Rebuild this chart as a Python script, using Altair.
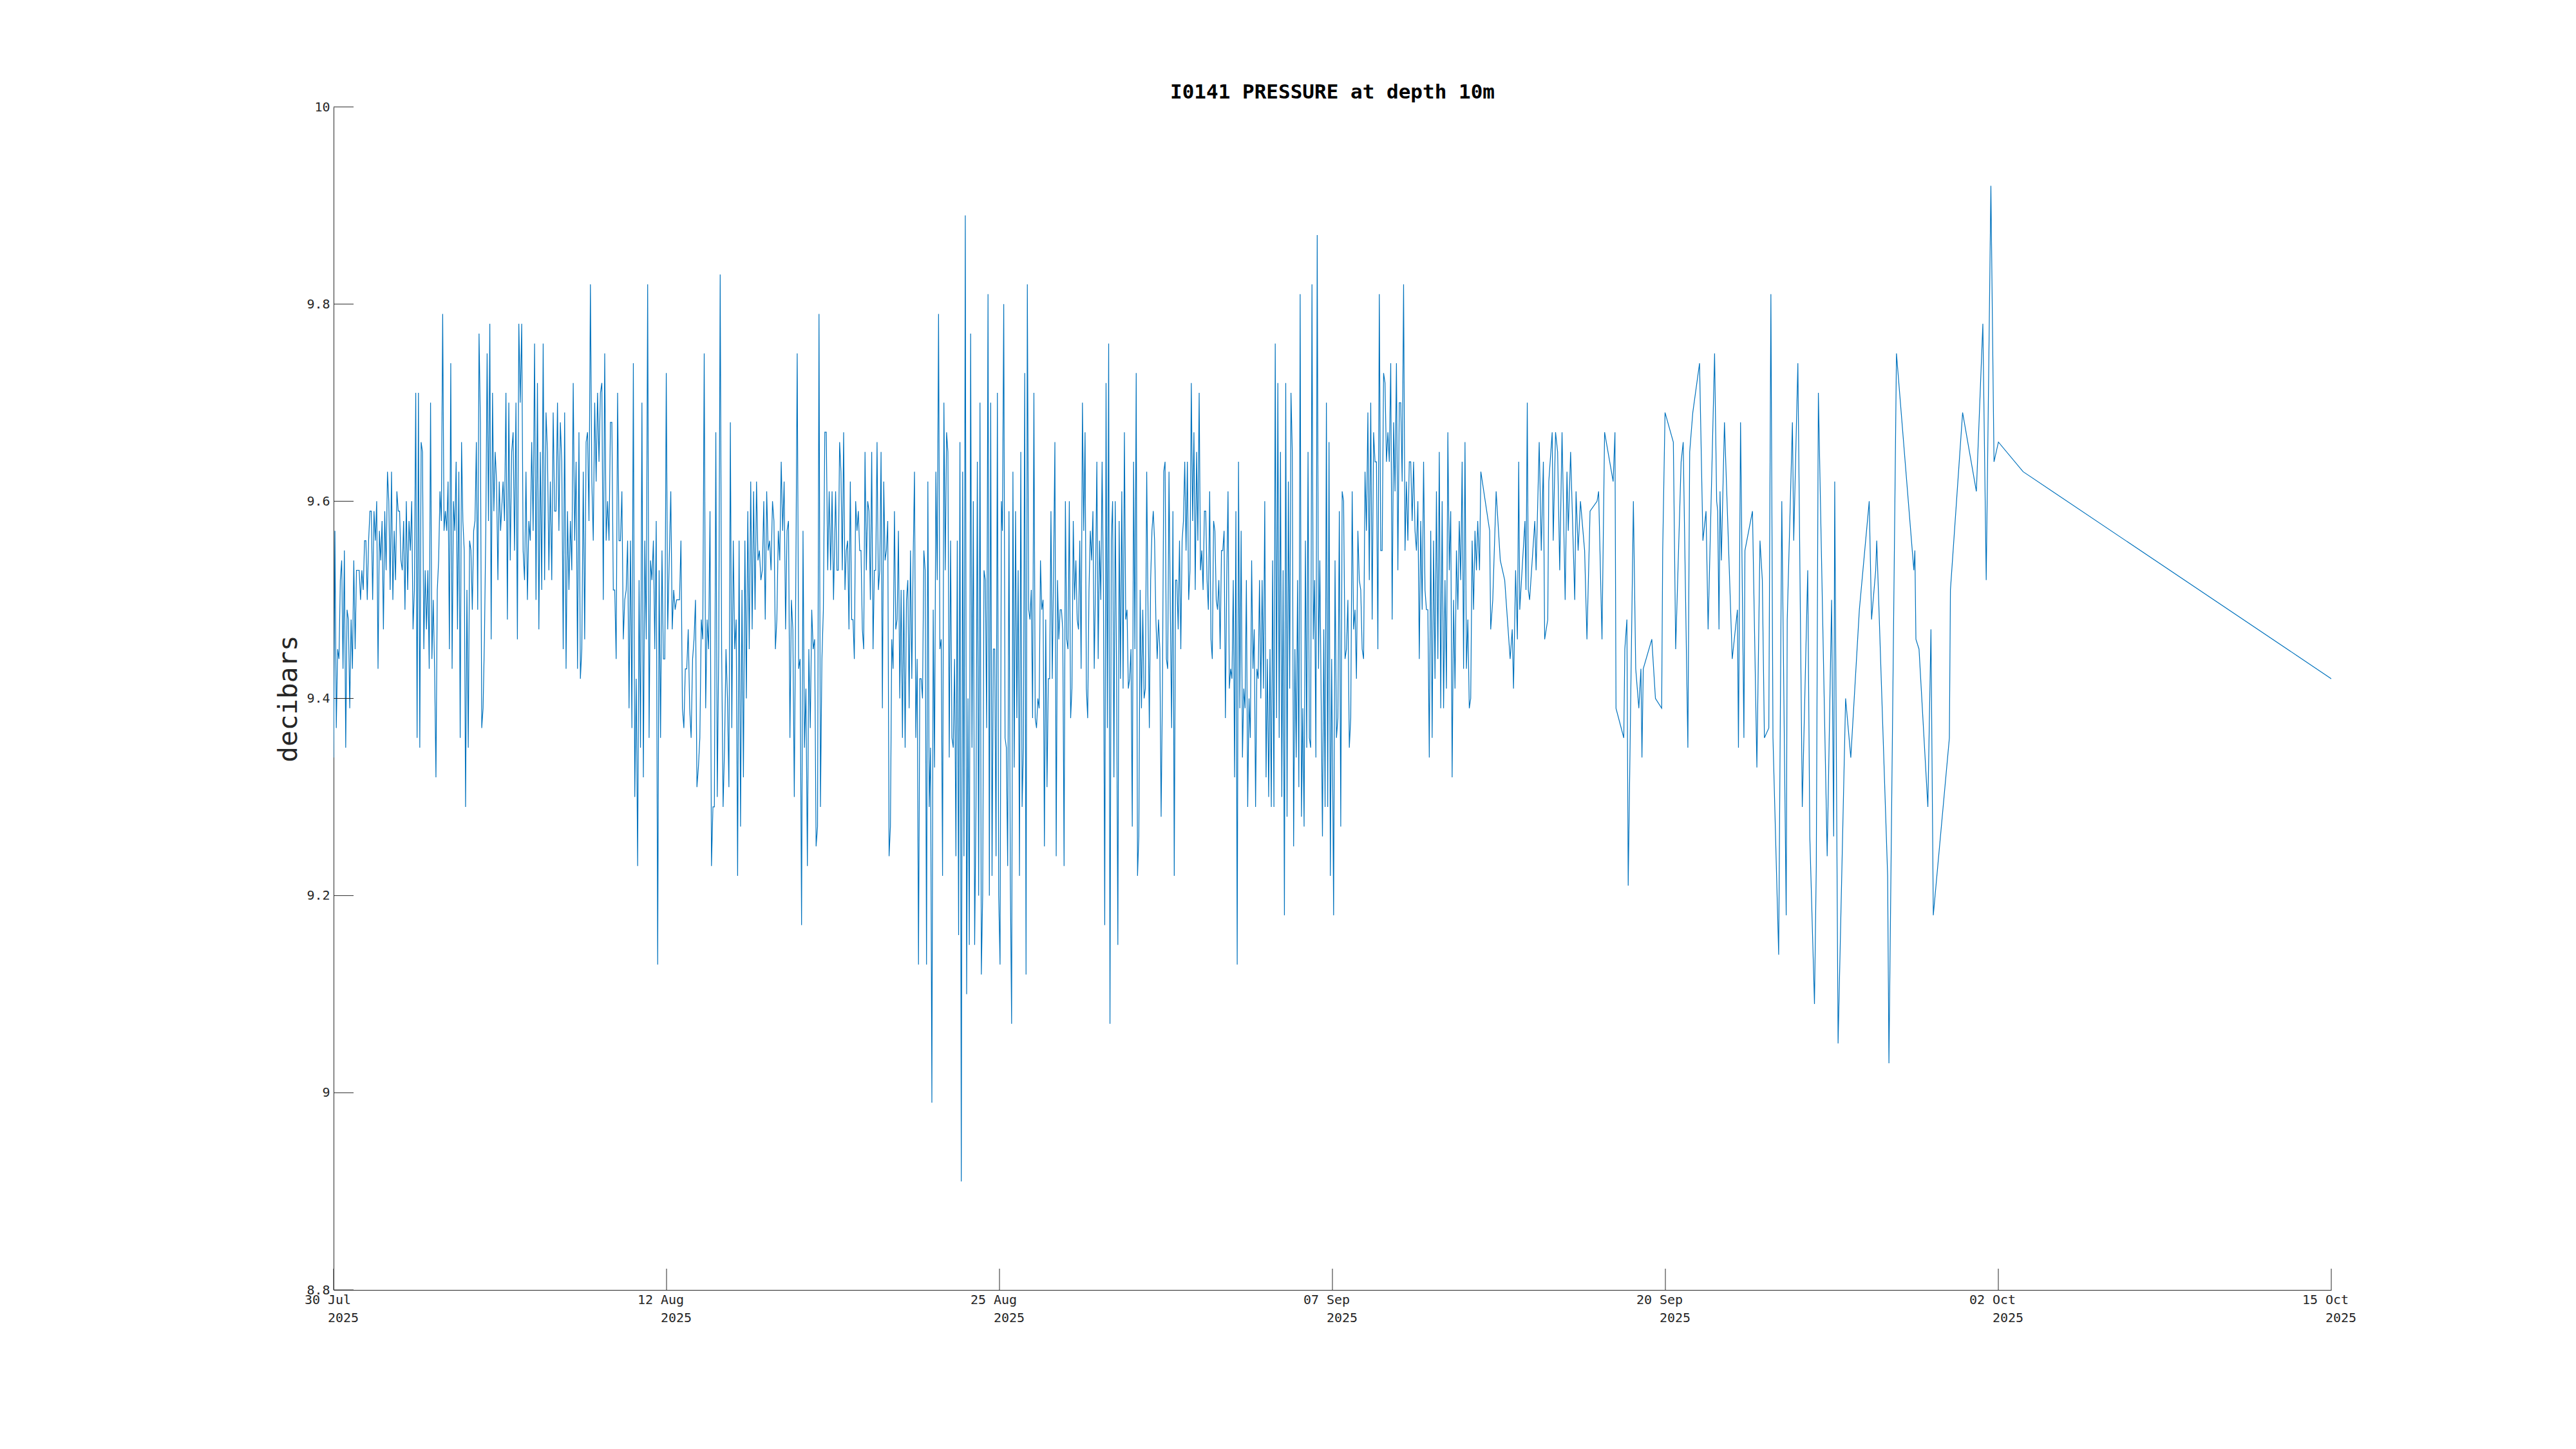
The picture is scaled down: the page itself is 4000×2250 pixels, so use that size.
import altair as alt
import pandas as pd

# ---- data ----
TITLE = "I0141 PRESSURE at depth 10m"
Y_TITLE = "decibars"
START = "2025-07-30 18:00"          # left edge of the axis (first sample)
Y_TICKS = [8.8, 9.0, 9.2, 9.4, 9.6, 9.8, 10.0]
X_TICK_STEP_HOURS = 308             # 6 equal intervals over 77 days
N_X_TICKS = 7

# dense record, regularly sampled within each span: (start day, end day, values)
SEG_A = [9.34, 9.57, 9.37, 9.45, 9.44, 9.52, 9.54, 9.43, 9.55, 9.35, 9.49, 9.48, 9.39, 9.48, 9.43, 9.54, 9.45, 9.53, 9.53, 9.53, 9.50, 9.53, 9.51, 9.56, 9.56, 9.50, 9.56, 9.59, 9.59, 9.50, 9.59, 9.56, 9.60, 9.43, 9.57, 9.54, 9.58, 9.47, 9.59, 9.53, 9.63, 9.60, 9.51, 9.63, 9.50, 9.57, 9.52, 9.61, 9.59, 9.59, 9.54, 9.53, 9.58, 9.49, 9.60, 9.51, 9.58, 9.55, 9.60, 9.47, 9.51, 9.71, 9.36, 9.71, 9.35, 9.66, 9.65, 9.45, 9.53, 9.47, 9.53, 9.43, 9.70, 9.44, 9.50, 9.43, 9.32, 9.51, 9.54, 9.61, 9.58, 9.79, 9.57, 9.59, 9.57, 9.62, 9.45, 9.74, 9.43, 9.60, 9.57, 9.64, 9.47, 9.63, 9.36, 9.66, 9.58, 9.55, 9.29, 9.51, 9.35, 9.56, 9.55, 9.49, 9.57, 9.58, 9.66, 9.49, 9.77, 9.68, 9.37, 9.39, 9.46, 9.57, 9.75, 9.58, 9.78, 9.46, 9.71, 9.59, 9.65, 9.62, 9.52, 9.62, 9.57]
SEG_B = [9.62, 9.58, 9.71, 9.48, 9.70, 9.54, 9.65, 9.67, 9.55, 9.70, 9.46, 9.78, 9.70, 9.78, 9.55, 9.52, 9.63, 9.50, 9.58, 9.56, 9.66, 9.57, 9.76, 9.50, 9.72, 9.47, 9.65, 9.51, 9.76, 9.52, 9.69, 9.65, 9.53, 9.62, 9.52, 9.69, 9.59, 9.59, 9.70, 9.57, 9.68, 9.64, 9.45, 9.69, 9.43, 9.59, 9.51, 9.58, 9.53, 9.72, 9.56, 9.64, 9.43, 9.67, 9.42, 9.45, 9.63, 9.46, 9.66, 9.67, 9.58, 9.82, 9.62, 9.56, 9.70, 9.62, 9.71, 9.64, 9.71, 9.72, 9.50, 9.75, 9.56, 9.60, 9.56, 9.68, 9.68, 9.51, 9.51, 9.44, 9.71, 9.56, 9.56, 9.61, 9.46, 9.50, 9.51, 9.56, 9.39, 9.56, 9.37, 9.74, 9.30, 9.42, 9.23, 9.52, 9.35, 9.70, 9.32, 9.56, 9.46, 9.82, 9.36, 9.54, 9.52, 9.56, 9.45, 9.58, 9.13, 9.53, 9.36, 9.55, 9.44, 9.44, 9.73, 9.47]
SEG_C = [9.61, 9.47, 9.51, 9.49, 9.50, 9.50, 9.50, 9.56, 9.39, 9.37, 9.43, 9.43, 9.47, 9.39, 9.36, 9.44, 9.46, 9.50, 9.31, 9.33, 9.36, 9.48, 9.46, 9.75, 9.39, 9.48, 9.45, 9.59, 9.23, 9.29, 9.29, 9.67, 9.30, 9.45, 9.83, 9.45, 9.29, 9.35, 9.45, 9.40, 9.31, 9.68, 9.37, 9.56, 9.45, 9.48, 9.22, 9.56, 9.27, 9.51, 9.32, 9.56, 9.40, 9.59, 9.45, 9.62, 9.47, 9.61, 9.49, 9.62, 9.54, 9.55, 9.52, 9.53, 9.60, 9.48, 9.61, 9.55, 9.56, 9.53, 9.60, 9.58, 9.45, 9.48, 9.57, 9.54, 9.64, 9.57, 9.62, 9.47, 9.57, 9.58, 9.36, 9.50, 9.47, 9.30, 9.51, 9.75, 9.43, 9.44, 9.17, 9.57, 9.35, 9.41, 9.23, 9.45, 9.37, 9.49, 9.45, 9.46, 9.25, 9.27, 9.79, 9.29, 9.44, 9.49, 9.67, 9.67, 9.53, 9.61, 9.53, 9.61, 9.50]
SEG_D = [9.61, 9.53, 9.53, 9.66, 9.63, 9.53, 9.67, 9.51, 9.55, 9.56, 9.47, 9.62, 9.48, 9.48, 9.44, 9.60, 9.57, 9.59, 9.55, 9.55, 9.47, 9.45, 9.65, 9.53, 9.60, 9.59, 9.50, 9.65, 9.45, 9.53, 9.53, 9.66, 9.51, 9.53, 9.65, 9.39, 9.62, 9.54, 9.55, 9.58, 9.24, 9.27, 9.46, 9.43, 9.59, 9.47, 9.48, 9.57, 9.40, 9.51, 9.36, 9.51, 9.35, 9.50, 9.52, 9.39, 9.55, 9.42, 9.54, 9.63, 9.36, 9.44, 9.13, 9.42, 9.42, 9.40, 9.55, 9.53, 9.13, 9.62, 9.29, 9.35, 8.99, 9.49, 9.33, 9.63, 9.52, 9.79, 9.45, 9.46, 9.22, 9.70, 9.53, 9.67, 9.65, 9.34, 9.56, 9.36, 9.35, 9.44, 9.24, 9.56, 9.16, 9.66, 8.91, 9.63, 9.24, 9.89, 9.10, 9.40, 9.15, 9.77, 9.35, 9.60, 9.15, 9.29, 9.64, 9.20, 9.70, 9.12, 9.20, 9.53, 9.52, 9.37, 9.81, 9.20, 9.70, 9.22, 9.45, 9.45, 9.24, 9.71, 9.20, 9.13, 9.60]
SEG_E = [9.57, 9.80, 9.36, 9.35, 9.23, 9.59, 9.22, 9.07, 9.63, 9.33, 9.59, 9.38, 9.53, 9.22, 9.65, 9.29, 9.35, 9.73, 9.12, 9.82, 9.49, 9.48, 9.51, 9.38, 9.71, 9.38, 9.37, 9.40, 9.39, 9.54, 9.49, 9.50, 9.25, 9.48, 9.31, 9.42, 9.42, 9.59, 9.42, 9.53, 9.66, 9.24, 9.52, 9.46, 9.49, 9.49, 9.47, 9.23, 9.60, 9.46, 9.45, 9.60, 9.38, 9.41, 9.58, 9.50, 9.54, 9.48, 9.47, 9.56, 9.43, 9.70, 9.57, 9.67, 9.41, 9.38, 9.51, 9.57, 9.54, 9.59, 9.43, 9.52, 9.64, 9.44, 9.56, 9.50, 9.64, 9.51, 9.17, 9.72, 9.37, 9.76, 9.07, 9.56, 9.60, 9.32, 9.60, 9.43, 9.15, 9.58, 9.42, 9.61, 9.41, 9.67, 9.48, 9.49, 9.41, 9.42, 9.45, 9.27, 9.64, 9.45, 9.73, 9.22, 9.26, 9.51, 9.39, 9.49, 9.40, 9.41, 9.63, 9.49, 9.37, 9.52, 9.57, 9.59, 9.56, 9.48, 9.44, 9.48, 9.45, 9.28, 9.41, 9.63, 9.64, 9.44, 9.43, 9.63, 9.49, 9.37, 9.59, 9.22, 9.52, 9.52, 9.47, 9.56, 9.45, 9.56, 9.58, 9.64, 9.55, 9.64, 9.50, 9.53, 9.72, 9.58, 9.67, 9.51, 9.65, 9.56, 9.71, 9.53, 9.55, 9.51, 9.59, 9.59, 9.52, 9.49, 9.61, 9.46, 9.44, 9.58, 9.57, 9.50, 9.49, 9.52, 9.45, 9.55, 9.55, 9.57, 9.38, 9.52, 9.61, 9.41, 9.43, 9.42, 9.52, 9.32, 9.59, 9.13, 9.64, 9.39, 9.57, 9.34, 9.41, 9.39, 9.52, 9.29, 9.40, 9.36, 9.54, 9.43, 9.47, 9.29, 9.43, 9.42, 9.52, 9.40, 9.52, 9.41, 9.60, 9.32, 9.44, 9.30, 9.45, 9.29, 9.54, 9.29, 9.76, 9.38, 9.72, 9.36, 9.65, 9.30, 9.53, 9.18, 9.72, 9.28, 9.62, 9.41, 9.71, 9.65, 9.25, 9.45, 9.34, 9.52, 9.31, 9.81, 9.28, 9.39, 9.27, 9.56, 9.35, 9.65, 9.36, 9.35, 9.82, 9.46, 9.52, 9.34, 9.87, 9.43, 9.54, 9.40, 9.26, 9.47, 9.29, 9.70, 9.29, 9.66, 9.22, 9.44, 9.28]
SEG_F = [9.18, 9.54, 9.36, 9.38, 9.59, 9.27, 9.61, 9.60, 9.44, 9.45, 9.50, 9.35, 9.38, 9.61, 9.47, 9.49, 9.42, 9.57, 9.52, 9.51, 9.45, 9.44, 9.63, 9.57, 9.69, 9.52, 9.70, 9.48, 9.67, 9.64, 9.64, 9.45, 9.81, 9.55, 9.55, 9.73, 9.72, 9.64, 9.67, 9.64, 9.74, 9.48, 9.68, 9.61, 9.74, 9.53, 9.70, 9.70, 9.62, 9.82, 9.55, 9.62, 9.56, 9.64, 9.64, 9.58, 9.64, 9.57, 9.55, 9.60, 9.44, 9.58, 9.49, 9.64, 9.51, 9.49, 9.49, 9.34, 9.57, 9.36, 9.56, 9.42, 9.61, 9.44, 9.65, 9.39, 9.60, 9.39, 9.52, 9.41, 9.67, 9.53, 9.59, 9.32, 9.50, 9.41, 9.55, 9.49, 9.58, 9.52, 9.64, 9.43, 9.66, 9.43, 9.48, 9.39, 9.40, 9.56, 9.49, 9.57, 9.53]
DENSE_SPANS = [(0.0, 6.437, SEG_A), (6.533, 12.878, SEG_B), (12.997, 19.27, SEG_C),
               (19.35, 25.74, SEG_D), (25.78, 38.52, SEG_E), (38.545, 44.05, SEG_F)]

# sparser record afterwards: day offsets from START and values
SPARSE_DAYS = [44.10, 44.17, 44.22, 44.56, 44.60, 44.68, 44.81, 44.97, 45.14, 45.35, 45.43, 45.48, 45.56, 45.63, 45.68, 45.72, 45.92, 45.96, 46.01, 46.05, 46.10, 46.30, 46.35, 46.47, 46.55, 46.63, 46.68, 46.80, 46.84, 46.97, 47.01, 47.10, 47.18, 47.26, 47.35, 47.47, 47.54, 47.59, 47.68, 47.84, 47.89, 47.97, 48.06, 48.22, 48.31,
               48.43, 48.70, 48.76, 48.89, 48.99, 49.32, 49.39, 49.43, 49.73, 49.77, 49.85, 49.90, 50.10, 50.19, 50.31, 50.39, 50.43, 50.48, 50.81, 50.95, 51.19, 51.23, 51.32, 51.64, 51.73, 51.94, 52.02, 52.20, 52.27, 52.39, 52.65, 52.78, 52.90, 52.98, 53.23, 53.31, 53.35, 53.40, 53.44, 53.49, 53.61, 53.91, 54.11, 54.15, 54.23, 54.36, 54.40, 54.69, 54.86, 54.98, 55.07, 55.15, 55.32, 55.40, 55.48, 55.70, 55.82, 55.99, 56.03, 56.23, 56.28, 56.44,
               56.61, 56.82, 56.90, 57.08, 57.15, 57.23, 57.57, 57.74, 57.82, 57.86, 57.99, 58.28, 58.48, 58.81, 59.19, 59.28, 59.44, 59.48, 59.90, 59.95, 60.24, 60.91, 60.95, 60.99, 61.11, 61.45, 61.57, 61.66, 62.28, 62.32, 62.79, 63.32, 63.57, 63.70, 63.88, 64.00, 64.17, 65.12, 77.0]
SPARSE_VALS = [9.58, 9.53, 9.63, 9.57, 9.47, 9.50, 9.61, 9.54, 9.52, 9.44, 9.47, 9.41, 9.53, 9.46, 9.64, 9.49, 9.58, 9.51, 9.70, 9.51, 9.50, 9.58, 9.53, 9.66, 9.55, 9.64, 9.46, 9.48, 9.62, 9.67, 9.56, 9.67, 9.65, 9.53, 9.67, 9.50, 9.63, 9.57, 9.65, 9.50, 9.61, 9.55, 9.60, 9.55, 9.46,
               9.59, 9.60, 9.61, 9.46, 9.67, 9.62, 9.67, 9.39, 9.36, 9.45, 9.48, 9.21, 9.60, 9.43, 9.39, 9.43, 9.34, 9.43, 9.46, 9.40, 9.39, 9.55, 9.69, 9.66, 9.45, 9.64, 9.66, 9.35, 9.65, 9.69, 9.74, 9.56, 9.59, 9.47, 9.75, 9.60, 9.59, 9.47, 9.61, 9.54, 9.68, 9.44, 9.49, 9.35, 9.68, 9.36, 9.55, 9.59, 9.33, 9.56, 9.52, 9.36, 9.37, 9.81, 9.36, 9.14, 9.60, 9.18, 9.48, 9.68, 9.56, 9.74,
               9.29, 9.53, 9.26, 9.09, 9.23, 9.71, 9.24, 9.50, 9.26, 9.62, 9.05, 9.40, 9.34, 9.49, 9.60, 9.48, 9.53, 9.56, 9.22, 9.03, 9.75, 9.53, 9.55, 9.46, 9.45, 9.29, 9.47, 9.18, 9.36, 9.51, 9.69, 9.61, 9.78, 9.52, 9.92, 9.64, 9.66, 9.63, 9.42]

# ---- table ----
t0 = pd.Timestamp(START)
days, vals = [], []
for d0, d1, seg in DENSE_SPANS:
    n = len(seg)
    for i, v in enumerate(seg):
        days.append(d0 + (d1 - d0) * i / (n - 1))
        vals.append(v)
days += SPARSE_DAYS
vals += SPARSE_VALS
df = pd.DataFrame({
    "t": [(t0 + pd.Timedelta(days=d)).strftime("%Y-%m-%dT%H:%M:%S") for d in days],
    "v": vals,
})

tick_ts = [t0 + pd.Timedelta(hours=X_TICK_STEP_HOURS * k) for k in range(N_X_TICKS)]
def dt(ts):
    return alt.DateTime(year=ts.year, month=ts.month, date=ts.day, hours=ts.hour)
x_tick_vals = [dt(ts) for ts in tick_ts]
xt_df = pd.DataFrame({
    "t": [ts.strftime("%Y-%m-%dT%H:%M:%S") for ts in tick_ts],
    "day": [ts.strftime("%d %b") for ts in tick_ts],
    "year": [ts.strftime("%Y") for ts in tick_ts],
})
yt_df = pd.DataFrame({"v": Y_TICKS})

W, H = 3102, 1837
INK = "#262626"
FONT = "DejaVu Sans Mono"
x_scale = alt.Scale(domain=[x_tick_vals[0], x_tick_vals[-1]])
y_scale = alt.Scale(domain=[Y_TICKS[0], Y_TICKS[-1]], nice=False, zero=False)

x_axis = alt.Axis(values=x_tick_vals, tickSize=0, labels=False, title=None, grid=False)
y_axis = alt.Axis(
    values=Y_TICKS, format="~g", tickSize=0, labelPadding=6, labelFontSize=20,
    title=Y_TITLE, titleFontSize=41, titleFontWeight="normal", titlePadding=6,
    grid=False, labelOverlap=False, labelFlush=False)

line = alt.Chart(df).mark_line(color="#0072BD", strokeWidth=1.2, clip=True).encode(
    x=alt.X("t:T", scale=x_scale, axis=x_axis),
    y=alt.Y("v:Q", scale=y_scale, axis=y_axis),
)

y_tick_rules = alt.Chart(yt_df).mark_rule(color=INK, strokeWidth=1).encode(
    y=alt.Y("v:Q", scale=y_scale, axis=y_axis),
    x=alt.value(0), x2=alt.value(31),
)
x_tick_rules = alt.Chart(xt_df).mark_rule(color=INK, strokeWidth=1).encode(
    x=alt.X("t:T", scale=x_scale, axis=x_axis),
    y=alt.value(H), y2=alt.value(H - 33),
)
x_lab_day = alt.Chart(xt_df).mark_text(
    font=FONT, fontSize=20, color=INK, align="center", baseline="middle", dx=-9
).encode(
    x=alt.X("t:T", scale=x_scale, axis=x_axis),
    y=alt.value(H + 16),
    text="day:N",
)
x_lab_year = alt.Chart(xt_df).mark_text(
    font=FONT, fontSize=20, color=INK, align="center", baseline="middle", dx=15
).encode(
    x=alt.X("t:T", scale=x_scale, axis=x_axis),
    y=alt.value(H + 44),
    text="year:N",
)

chart = alt.layer(line, y_tick_rules, x_tick_rules, x_lab_day, x_lab_year).properties(
    width=W, height=H,
    title=alt.TitleParams(TITLE, font=FONT, fontSize=31, fontWeight="bold",
                          color="#000000", anchor="middle", offset=-4),
    autosize=alt.AutoSizeParams(type="none"),
    padding={"left": 510, "top": 158, "right": 300, "bottom": 200},
    background="white",
).configure_view(stroke=None).configure_axis(
    domainColor=INK, domainWidth=1, labelColor=INK, titleColor=INK,
    labelFont=FONT, titleFont=FONT,
)

chart.save("out.html", embed_options={"renderer": "svg", "actions": False})
